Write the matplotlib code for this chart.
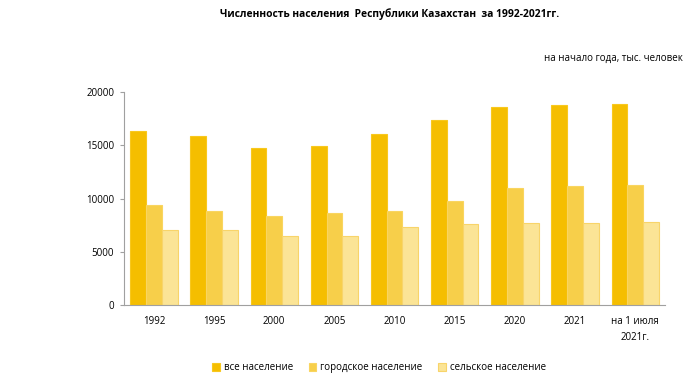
import matplotlib
matplotlib.use("Agg")
import matplotlib.pyplot as plt
import numpy as np

categories = ["1992", "1995", "2000", "2005", "2010", "2015", "2020", "2021", "на 1 июля\n2021г."]
total = [16370, 15840, 14760, 14900, 16100, 17400, 18570, 18760, 18910]
urban = [9390, 8830, 8400, 8600, 8850, 9800, 10950, 11140, 11240]
rural = [7040, 7070, 6450, 6450, 7350, 7600, 7670, 7670, 7770]
series_names = ["все население", "городское население", "сельское население"]

colors = ["#F5BE00", "#F7CF4A", "#FBE496"]
edges = ["#F8C81E", "#F9D560", "#F8D46A"]

plt.rcParams['font.family'] = ['Open Sans', 'DejaVu Sans']
fig = plt.figure(figsize=(6.88, 3.92), dpi=100)
ax = fig.add_axes([0.180, 0.222, 0.787, 0.543])

x = np.arange(len(categories))
w = 0.262
for i, (vals, c, e, n) in enumerate(zip([total, urban, rural], colors, edges, series_names)):
    ax.bar(x + (i - 1) * w, vals, width=w, color=c, edgecolor=e, linewidth=0.8, label=n)

ax.set_xlim(-0.5, len(categories) - 0.5)
ax.set_ylim(0, 20000)
ax.set_yticks([0, 5000, 10000, 15000, 20000])
ax.set_xticks(x)
ax.set_xticklabels(categories, fontsize=7, linespacing=1.6)
ax.tick_params(axis='y', labelsize=7, length=3, color="#A0A0A0", pad=4)
ax.tick_params(axis='x', length=0, pad=8)
for s in ["top", "right"]:
    ax.spines[s].set_visible(False)
ax.spines["left"].set_color("#A0A0A0")
ax.spines["bottom"].set_color("#A0A0A0")

fig.text(0.567, 0.963, "Численность населения  Республики Казахстан  за 1992-2021гг.",
         ha="center", va="center", fontsize=7.4, fontweight="bold")
fig.text(0.993, 0.852, "на начало года, тыс. человек", ha="right", va="center", fontsize=7)

fig.legend(loc="center", bbox_to_anchor=(0.551, 0.062), ncol=3, frameon=False,
           fontsize=7, handlelength=0.8, handleheight=0.8, columnspacing=1.6, handletextpad=0.4)

fig.savefig("out.png", dpi=100)
